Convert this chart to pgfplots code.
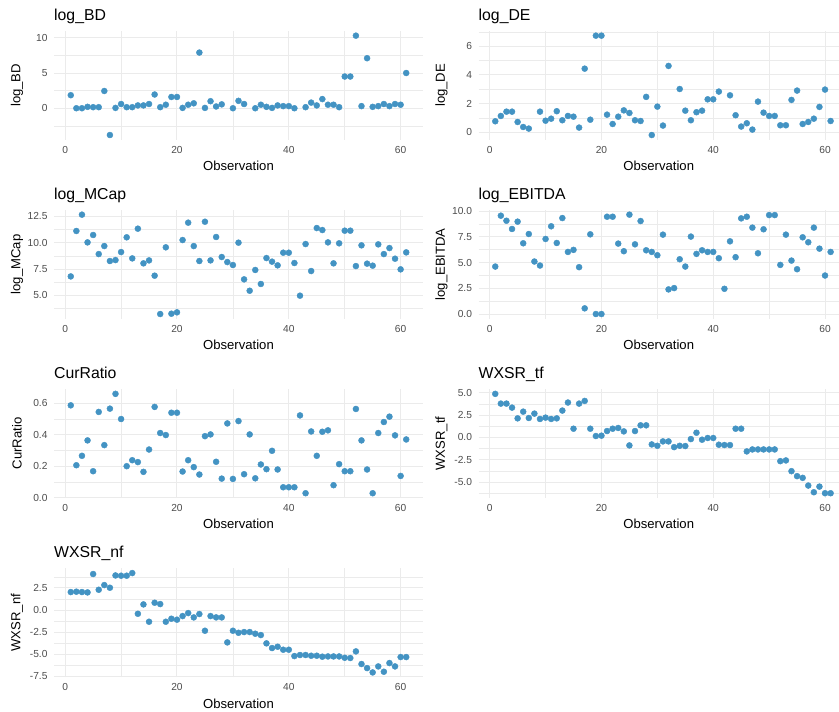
\documentclass[border=0pt]{standalone}
\usepackage{fontspec}
\setmainfont{Liberation Sans}
\usepackage{pgfplots}
\pgfplotsset{compat=1.18}
\definecolor{ptc}{HTML}{4393C3}
\definecolor{gridc}{HTML}{EBEBEB}
\definecolor{tickc}{HTML}{4D4D4D}
\pgfplotsset{
 every axis title shift=0pt,
 panel/.style={
  scale only axis, height=109.3pt, anchor=north west,
  axis line style={draw=none},
  major tick length=0pt, minor tick length=0pt,
  tick style={draw=none},
  grid=both,
  major grid style={line width=1pt, color=gridc},
  minor grid style={line width=0.5pt, color=gridc},
  xtick={0,20,40,60}, minor xtick={10,30,50},
  xticklabels={0,20,40,60},
  tick label style={font=\fontsize{10.2}{12}\selectfont, text=tickc, inner sep=0pt},
  yticklabel style={anchor=east, xshift=-6.3pt},
  xticklabel style={anchor=north, yshift=-6.2pt},
  xlabel={Observation},
  label style={font=\fontsize{13.1}{15}\selectfont, inner sep=0pt},
  title style={font=\fontsize{15.8}{18}\selectfont, anchor=base west, inner sep=0pt, yshift=0pt, at={(axis description cs:0,1.095)}},
  xlabel style={at={(axis description cs:0.5,-0.2809)}, anchor=base},
  xmin=-2,
  clip=false,
 },
 leftp/.style={panel, width=369pt, xmax=64, ylabel style={at={(axis description cs:-0.1003,0.5)}, anchor=center}},
 rightp/.style={panel, width=360.5pt, xmax=62.5, ylabel style={at={(axis description cs:-0.1026,0.5)}, anchor=center}},
 pts/.style={only marks, mark=*, mark size=3pt, color=ptc, mark options={draw=ptc, fill=ptc}},
}
\begin{document}
\begin{tikzpicture}
\useasboundingbox (0,0) rectangle (839pt,712pt);
% log_BD
\begin{axis}[leftp, at={(54pt,681.3pt)}, title={log\_BD}, ylabel={log\_BD},
  ymin=-4.505, ymax=11.005, ytick={0,5,10}, yticklabels={0,5,10}, minor ytick={-2.5,2.5,7.5}]
\addplot[pts] coordinates {(1,1.85)(2,0)(3,0)(4,0.2)(5,0.15)(6,0.15)(7,2.45)(8,-3.8)(9,0.05)(10,0.6)(11,0.15)(12,0.15)(13,0.4)(14,0.4)(15,0.6)(16,1.95)(17,0.15)(18,0.5)(19,1.6)(20,1.6)(21,0.05)(22,0.5)(23,0.7)(24,7.9)(25,0.05)(26,1.0)(27,0.25)(28,0.55)(30,0)(31,1.05)(32,0.6)(34,0)(35,0.5)(36,0.2)(37,0.05)(38,0.4)(39,0.3)(40,0.3)(41,0)(43,0.15)(44,0.8)(45,0.4)(46,1.3)(47,0.5)(48,0.5)(49,0.15)(50,4.5)(51,4.5)(52,10.3)(53,0.3)(54,7.1)(55,0.2)(56,0.3)(57,0.6)(58,0.3)(59,0.6)(60,0.5)(61,5.0)};
\end{axis}
% log_DE
\begin{axis}[rightp, at={(478.5pt,681.3pt)}, title={log\_DE}, ylabel={log\_DE},
  ymin=-0.5365, ymax=7.0865, ytick={0,2,4,6}, yticklabels={0,2,4,6}, minor ytick={1,3,5,7}]
\addplot[pts] coordinates {(1,0.77)(2,1.14)(3,1.44)(4,1.44)(5,0.72)(6,0.37)(7,0.26)(9,1.44)(10,0.81)(11,0.95)(12,1.47)(13,0.84)(14,1.14)(15,1.09)(16,0.33)(17,4.44)(18,0.88)(19,6.74)(20,6.74)(21,1.23)(22,0.58)(23,1.09)(24,1.53)(25,1.35)(26,0.84)(27,0.79)(28,2.47)(29,-0.19)(30,1.79)(31,0.47)(32,4.63)(34,3.02)(35,1.51)(36,0.84)(37,1.4)(38,1.51)(39,2.3)(40,2.3)(41,2.84)(43,2.58)(44,1.19)(45,0.4)(46,0.63)(47,0.19)(48,2.14)(49,1.37)(50,1.14)(51,1.14)(52,0.49)(53,0.49)(54,2.26)(55,2.91)(56,0.58)(57,0.72)(58,0.95)(59,1.77)(60,2.98)(61,0.79)};
\end{axis}
% log_MCap
\begin{axis}[leftp, at={(54pt,502.3pt)}, title={log\_MCap}, ylabel={log\_MCap},
  ymin=2.7585, ymax=13.1315, ytick={5,7.5,10,12.5}, yticklabels={5.0,7.5,10.0,12.5}, minor ytick={3.75,6.25,8.75,11.25}]
\addplot[pts] coordinates {(1,6.80)(2,11.11)(3,12.66)(4,10.03)(5,10.73)(6,8.92)(7,9.68)(8,8.26)(9,8.35)(10,9.11)(11,10.51)(12,8.51)(13,11.33)(14,8.04)(15,8.32)(16,6.87)(17,3.23)(18,9.56)(19,3.26)(20,3.39)(21,10.25)(22,11.90)(23,9.68)(24,8.26)(25,11.99)(26,8.32)(27,10.54)(28,8.64)(29,8.16)(30,7.88)(31,10.0)(32,6.52)(33,5.44)(34,7.41)(35,6.08)(36,8.54)(37,8.20)(38,7.85)(39,9.05)(40,9.05)(41,8.07)(42,4.97)(43,9.87)(44,7.31)(45,11.39)(46,11.20)(47,10.03)(48,8.04)(49,9.94)(50,11.14)(51,11.14)(52,7.78)(53,9.75)(54,8.01)(55,7.82)(56,9.84)(57,8.92)(58,9.49)(59,8.48)(60,7.47)(61,9.08)};
\end{axis}
% log_EBITDA
\begin{axis}[rightp, at={(478.5pt,502.3pt)}, title={log\_EBITDA}, ylabel={log\_EBITDA},
  ymin=-0.4825, ymax=10.1325, ytick={0,2.5,5,7.5,10}, yticklabels={0.0,2.5,5.0,7.5,10.0}, minor ytick={1.25,3.75,6.25,8.75}]
\addplot[pts] coordinates {(1,4.61)(2,9.55)(3,9.06)(4,8.26)(5,8.97)(6,6.87)(7,7.77)(8,5.10)(9,4.71)(10,7.29)(11,8.52)(12,6.90)(13,9.32)(14,6.03)(15,6.23)(16,4.55)(17,0.55)(18,7.74)(19,0)(20,0)(21,9.45)(22,9.45)(23,6.84)(24,6.10)(25,9.65)(26,6.77)(27,9.03)(28,6.19)(29,6.03)(30,5.71)(31,7.71)(32,2.39)(33,2.52)(34,5.32)(35,4.61)(36,7.52)(37,5.84)(38,6.19)(39,6.03)(40,6.03)(41,5.42)(42,2.45)(43,7.06)(44,5.52)(45,9.29)(46,9.45)(47,8.39)(48,5.90)(49,8.23)(50,9.61)(51,9.61)(52,4.77)(53,7.71)(54,5.19)(55,4.35)(56,7.45)(57,6.97)(58,8.39)(59,6.35)(60,3.74)(61,6.03)};
\end{axis}
% CurRatio
\begin{axis}[leftp, at={(54pt,323.1pt)}, title={CurRatio}, ylabel={CurRatio},
  ymin=-0.0036, ymax=0.6916, ytick={0,0.2,0.4,0.6}, yticklabels={0.0,0.2,0.4,0.6}, minor ytick={0.1,0.3,0.5}]
\addplot[pts] coordinates {(1,0.587)(2,0.206)(3,0.266)(4,0.364)(5,0.168)(6,0.545)(7,0.334)(8,0.566)(9,0.660)(10,0.500)(11,0.200)(12,0.238)(13,0.226)(14,0.164)(15,0.306)(16,0.577)(17,0.411)(18,0.398)(19,0.540)(20,0.540)(21,0.166)(22,0.238)(23,0.194)(24,0.147)(25,0.391)(26,0.402)(27,0.228)(28,0.121)(29,0.472)(30,0.119)(31,0.487)(32,0.149)(33,0.402)(34,0.123)(35,0.211)(36,0.181)(37,0.298)(38,0.179)(39,0.066)(40,0.066)(41,0.066)(42,0.523)(43,0.028)(44,0.421)(45,0.266)(46,0.419)(47,0.428)(48,0.079)(49,0.213)(50,0.168)(51,0.168)(52,0.564)(53,0.364)(54,0.179)(55,0.028)(56,0.411)(57,0.481)(58,0.515)(59,0.396)(60,0.138)(61,0.370)};
\end{axis}
% WXSR_tf
\begin{axis}[rightp, at={(478.5pt,323.1pt)}, title={WXSR\_tf}, ylabel={WXSR\_tf},
  ymin=-6.806, ymax=5.426, ytick={-5,-2.5,0,2.5,5}, yticklabels={-5.0,-2.5,0.0,2.5,5.0}, minor ytick={-6.25,-3.75,-1.25,1.25,3.75}]
\addplot[pts] coordinates {(1,4.87)(2,3.78)(3,3.78)(4,3.33)(5,2.13)(6,2.88)(7,2.17)(8,2.66)(9,2.06)(10,2.21)(11,2.06)(12,2.13)(13,3.00)(14,3.90)(15,0.97)(16,3.78)(17,4.08)(18,0.97)(19,0.15)(20,0.19)(21,0.71)(22,0.97)(23,1.05)(24,0.67)(25,-0.90)(26,0.71)(27,1.35)(28,1.35)(29,-0.79)(30,-0.94)(31,-0.45)(32,-0.45)(33,-1.09)(34,-0.94)(35,-0.97)(36,-0.19)(37,0.52)(38,-0.26)(39,-0.07)(40,-0.07)(41,-0.82)(42,-0.86)(43,-0.86)(44,0.97)(45,0.97)(46,-1.57)(47,-1.35)(48,-1.35)(49,-1.35)(50,-1.35)(51,-1.35)(52,-2.66)(53,-2.58)(54,-3.78)(55,-4.34)(56,-4.53)(57,-5.39)(58,-6.14)(59,-5.51)(60,-6.25)(61,-6.25)};
\end{axis}
% WXSR_nf
\begin{axis}[leftp, at={(54pt,143.9pt)}, title={WXSR\_nf}, ylabel={WXSR\_nf},
  ymin=-7.6225, ymax=4.7525, ytick={-7.5,-5,-2.5,0,2.5}, yticklabels={-7.5,-5.0,-2.5,0.0,2.5}, minor ytick={-6.25,-3.75,-1.25,1.25,3.75}]
\addplot[pts] coordinates {(1,2.04)(2,2.08)(3,2.04)(4,2.0)(5,4.08)(6,2.30)(7,2.83)(8,2.53)(9,3.92)(10,3.89)(11,3.89)(12,4.19)(13,-0.42)(14,0.64)(15,-1.32)(16,0.83)(17,0.68)(18,-1.32)(19,-0.98)(20,-1.09)(21,-0.68)(22,-0.34)(23,-0.83)(24,-0.45)(25,-2.34)(26,-0.68)(27,-0.83)(28,-0.83)(29,-3.66)(30,-2.34)(31,-2.57)(32,-2.49)(33,-2.49)(34,-2.68)(35,-2.83)(36,-3.77)(37,-4.30)(38,-4.15)(39,-4.49)(40,-4.49)(41,-5.21)(42,-5.09)(43,-5.09)(44,-5.17)(45,-5.17)(46,-5.28)(47,-5.25)(48,-5.25)(49,-5.25)(50,-5.40)(51,-5.43)(52,-4.68)(53,-6.11)(54,-6.57)(55,-7.06)(56,-6.38)(57,-6.98)(58,-6.0)(59,-6.38)(60,-5.32)(61,-5.32)};
\end{axis}
\end{tikzpicture}
\end{document}
